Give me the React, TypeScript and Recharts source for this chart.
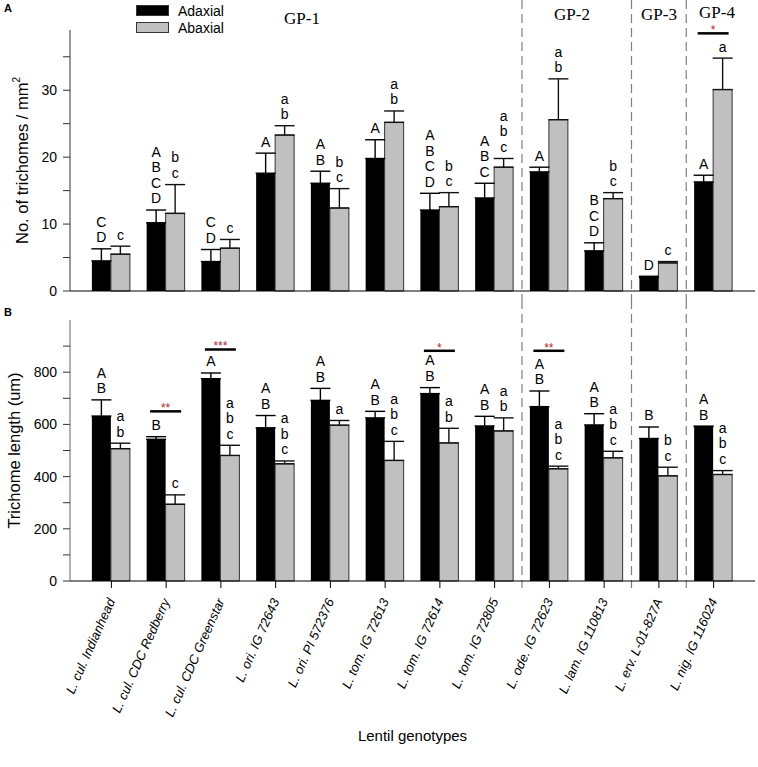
import React from "react";
import { BarChart, Bar, XAxis, YAxis, ErrorBar, LabelList, ReferenceLine, Legend } from "recharts";

const genotypes = [
  "L. cul. Indianhead",
  "L. cul. CDC Redberry",
  "L. cul. CDC Greenstar",
  "L. ori. IG 72643",
  "L. ori. PI 572376",
  "L. tom. IG 72613",
  "L. tom. IG 72614",
  "L. tom. IG 72805",
  "L. ode. IG 72623",
  "L. lam. IG 110813",
  "L. erv. L-01-827A",
  "L. nig. IG 116024",
];

const surfaces = ["Adaxial", "Abaxial"];

// A: trichome density (no. / mm2)
const densityAdaxial = [4.5, 10.2, 4.4, 17.6, 16.1, 19.8, 12.1, 13.9, 17.8, 6.0, 2.0, 16.3];
const densityAdaxialErr = [1.8, 1.9, 1.8, 3.0, 1.8, 2.8, 2.5, 2.2, 0.7, 1.2, 0.2, 1.0];
const densityAbaxial = [5.5, 11.6, 6.4, 23.3, 12.4, 25.2, 12.6, 18.5, 25.6, 13.8, 4.2, 30.1];
const densityAbaxialErr = [1.2, 4.3, 1.3, 1.4, 2.9, 1.7, 2.1, 1.3, 6.1, 0.9, 0.2, 4.7];
const densityAdaxialLetters = ["CD", "ABCD", "CD", "A", "AB", "A", "ABCD", "ABC", "A", "BCD", "D", "A"];
const densityAbaxialLetters = ["c", "bc", "c", "ab", "bc", "ab", "bc", "abc", "ab", "bc", "c", "a"];
const densitySig = ["", "", "", "", "", "", "", "", "", "", "", "*"];
const densitySigLevel = [0, 0, 0, 0, 0, 0, 0, 0, 0, 0, 0, 38.5];
const densityTicks = [0, 5, 10, 15, 20, 25, 30, 35];

// B: trichome length (um)
const lengthAdaxial = [632, 543, 775, 587, 692, 625, 718, 594, 668, 598, 546, 592];
const lengthAdaxialErr = [62, 10, 22, 47, 46, 25, 23, 37, 60, 43, 44, 1];
const lengthAbaxial = [507, 294, 481, 449, 597, 462, 529, 575, 430, 472, 403, 408];
const lengthAbaxialErr = [21, 36, 39, 11, 18, 73, 56, 50, 10, 25, 33, 15];
const lengthAdaxialLetters = ["AB", "B", "A", "AB", "AB", "AB", "AB", "AB", "AB", "AB", "B", "AB"];
const lengthAbaxialLetters = ["ab", "c", "abc", "abc", "a", "abc", "ab", "ab", "abc", "abc", "bc", "abc"];
const lengthSig = ["", "**", "***", "", "", "", "*", "", "**", "", "", ""];
const lengthSigLevel = [0, 650, 887, 0, 0, 0, 882, 0, 882, 0, 0, 0];
const lengthTicks = [0, 100, 200, 300, 400, 500, 600, 700, 800, 900];

// last genotype of GP-1, GP-2, GP-3
const groupEnds = ["L. tom. IG 72805", "L. lam. IG 110813", "L. erv. L-01-827A"];

const densityData = genotypes.map((g, i) => ({
  name: g,
  ad: densityAdaxial[i],
  adErr: [0, densityAdaxialErr[i]],
  ab: densityAbaxial[i],
  abErr: [0, densityAbaxialErr[i]],
}));

const lengthData = genotypes.map((g, i) => ({
  name: g,
  ad: lengthAdaxial[i],
  adErr: [0, lengthAdaxialErr[i]],
  ab: lengthAbaxial[i],
  abErr: [0, lengthAbaxialErr[i]],
}));

const FONT = "'Liberation Sans', Arial, sans-serif";

const barBox = (props: any) => {
  const vb = props.viewBox || props;
  const top = Math.min(vb.y, vb.y + vb.height);
  const h = Math.abs(vb.height);
  return { x: vb.x, w: vb.width, top, bottom: top + h, h };
};

const makeLetters = (values: number[], errs: number[], letters: string[]) => (props: any) => {
  const i = props.index;
  if (i == null || !letters[i]) return null;
  const b = barBox(props);
  const ppu = b.h / values[i];
  const errTop = b.top - errs[i] * ppu;
  const chars = letters[i].split("");
  const cx = b.x + b.w / 2;
  return (
    <g>
      {chars.map((c, k) => (
        <text
          key={k}
          x={cx}
          y={errTop - 11.5 - (chars.length - 1 - k) * 15.5}
          dy="0.35em"
          textAnchor="middle"
          fontSize={14}
          fontFamily={FONT}
          fill="#000"
        >
          {c}
        </text>
      ))}
    </g>
  );
};

const makeSig = (values: number[], sig: string[], levels: number[]) => (props: any) => {
  const i = props.index;
  if (i == null || !sig[i]) return null;
  const b = barBox(props);
  const ppu = b.h / values[i];
  const ly = b.bottom - levels[i] * ppu;
  const cx = b.x + b.w;
  return (
    <g>
      <line x1={cx - 15.5} x2={cx + 15.5} y1={ly} y2={ly} stroke="#000" strokeWidth={2.5} />
      <text x={cx} y={ly + 1} textAnchor="middle" fontSize={12} fontFamily={FONT} fill="#b0262a">
        {sig[i]}
      </text>
    </g>
  );
};

const dashShape = (bottomExtra: number | null, fixedBottom: number | null) => (p: any) => {
  const yb = fixedBottom != null ? fixedBottom : Math.max(p.y1, p.y2) + (bottomExtra || 0);
  return <line x1={p.x1} x2={p.x1} y1={0} y2={yb} stroke="#808080" strokeWidth={1.2} strokeDasharray="9 5" />;
};

const GenotypeTick = (props: any) => {
  const { x, y, payload } = props;
  return (
    <g transform={`translate(${x + 4},${y + 11})`}>
      <text transform="rotate(-66)" textAnchor="end" fontSize={13} fontStyle="italic" fontFamily={FONT} fill="#000">
        {payload.value}
      </text>
    </g>
  );
};

const LegendBox = (props: any) => {
  const payload = [...(props.payload || [])].sort(
    (a: any, b: any) => surfaces.indexOf(a.value) - surfaces.indexOf(b.value)
  );
  return (
    <div style={{ fontFamily: FONT }}>
      {payload.map((e: any) => (
        <div key={e.value} style={{ display: "flex", alignItems: "center", height: 17 }}>
          <span
            style={{
              display: "inline-block",
              width: 31,
              height: 9,
              background: e.color,
              border: "1px solid #333",
              marginRight: 9,
            }}
          />
          <span style={{ fontSize: 14, color: "#000" }}>{e.value}</span>
        </div>
      ))}
    </div>
  );
};

const yLabelA = (props: any) => {
  const vb = props.viewBox;
  const cy = vb.y + vb.height / 2;
  return (
    <text transform={`translate(28,${cy}) rotate(-90)`} textAnchor="middle" fontSize={16.5} fontFamily={FONT} fill="#000">
      No. of trichomes / mm
      <tspan fontSize={10} dy={-8}>2</tspan>
    </text>
  );
};

const yLabelB = (props: any) => {
  const vb = props.viewBox;
  const cy = vb.y + vb.height / 2;
  return (
    <text transform={`translate(20,${cy}) rotate(-90)`} textAnchor="middle" fontSize={16.5} fontFamily={FONT} fill="#000">
      Trichome length (um)
    </text>
  );
};

const tickStyle = { fontSize: 14, fill: "#000", fontFamily: FONT };

export default function App() {
  return (
    <div style={{ position: "absolute", left: 0, top: 0, width: 758, height: 767, background: "#fff", fontFamily: FONT }}>
      <div style={{ position: "absolute", left: 0, top: 0 }}>
        <BarChart
          width={758}
          height={300}
          data={densityData}
          margin={{ top: 30, right: 3, left: 0, bottom: 0 }}
          barCategoryGap="14.4%"
          barGap={0}
        >
          {groupEnds.map((g) => (
            <ReferenceLine key={g} x={g} position="end" ifOverflow="visible" shape={dashShape(null, 300)} />
          ))}
          <XAxis
            dataKey="name"
            height={9}
            padding={{ left: 14, right: 14 }}
            tick={false}
            tickSize={7}
            axisLine={{ stroke: "#000" }}
            tickLine={{ stroke: "#000" }}
          />
          <YAxis
            domain={[0, 39]}
            ticks={densityTicks}
            tickFormatter={(v: number) => (v % 10 === 0 ? String(v) : "")}
            width={70}
            tickSize={7}
            tickMargin={6}
            tick={tickStyle}
            axisLine={{ stroke: "#333" }}
            tickLine={{ stroke: "#333" }}
            label={{ content: yLabelA }}
          />
          <YAxis yAxisId="frame" orientation="right" width={0} tick={false} tickLine={false} axisLine={{ stroke: "#222" }} />
          <Legend
            layout="vertical"
            align="center"
            verticalAlign="middle"
            wrapperStyle={{ top: 2, left: 136, width: 120, height: 36 }}
            content={LegendBox}
          />
          <Bar dataKey="ad" name={surfaces[0]} fill="#000" isAnimationActive={false}>
            <ErrorBar dataKey="adErr" direction="y" width={10} stroke="#000" strokeWidth={1.4} />
            <LabelList content={makeLetters(densityAdaxial, densityAdaxialErr, densityAdaxialLetters)} />
            <LabelList content={makeSig(densityAdaxial, densitySig, densitySigLevel)} />
          </Bar>
          <Bar dataKey="ab" name={surfaces[1]} fill="#c0c0c0" stroke="#333" strokeWidth={1} isAnimationActive={false}>
            <ErrorBar dataKey="abErr" direction="y" width={10} stroke="#111" strokeWidth={1.4} />
            <LabelList content={makeLetters(densityAbaxial, densityAbaxialErr, densityAbaxialLetters)} />
          </Bar>
        </BarChart>
      </div>

      <div style={{ position: "absolute", left: 0, top: 300 }}>
        <BarChart
          width={758}
          height={467}
          data={lengthData}
          margin={{ top: 20, right: 3, left: 0, bottom: 0 }}
          barCategoryGap="14.4%"
          barGap={0}
        >
          {groupEnds.map((g) => (
            <ReferenceLine key={g} x={g} position="end" ifOverflow="visible" shape={dashShape(7, null)} />
          ))}
          <XAxis
            dataKey="name"
            height={186}
            padding={{ left: 14, right: 14 }}
            tick={GenotypeTick}
            tickSize={7}
            tickMargin={2}
            interval={0}
            axisLine={{ stroke: "#000" }}
            tickLine={{ stroke: "#000" }}
            label={{ value: "Lentil genotypes", position: "insideBottom", offset: 26, style: { fontSize: 15, fill: "#000", fontFamily: FONT } }}
          />
          <YAxis
            domain={[0, 1000]}
            ticks={lengthTicks}
            tickFormatter={(v: number) => (v % 200 === 0 ? String(v) : "")}
            width={70}
            tickSize={7}
            tickMargin={6}
            tick={tickStyle}
            axisLine={{ stroke: "#666" }}
            tickLine={{ stroke: "#333" }}
            label={{ content: yLabelB }}
          />
          <YAxis yAxisId="frame" orientation="right" width={0} tick={false} tickLine={false} axisLine={{ stroke: "#222" }} />
          <Bar dataKey="ad" name={surfaces[0]} fill="#000" isAnimationActive={false}>
            <ErrorBar dataKey="adErr" direction="y" width={10} stroke="#000" strokeWidth={1.4} />
            <LabelList content={makeLetters(lengthAdaxial, lengthAdaxialErr, lengthAdaxialLetters)} />
            <LabelList content={makeSig(lengthAdaxial, lengthSig, lengthSigLevel)} />
          </Bar>
          <Bar dataKey="ab" name={surfaces[1]} fill="#c0c0c0" stroke="#333" strokeWidth={1} isAnimationActive={false}>
            <ErrorBar dataKey="abErr" direction="y" width={10} stroke="#111" strokeWidth={1.4} />
            <LabelList content={makeLetters(lengthAbaxial, lengthAbaxialErr, lengthAbaxialLetters)} />
          </Bar>
        </BarChart>
      </div>

      <div style={{ position: "absolute", left: 4, top: 2, fontSize: 11, fontWeight: "bold" }}>A</div>
      <div style={{ position: "absolute", left: 4, top: 306, fontSize: 11, fontWeight: "bold" }}>B</div>

      {[
        { t: "GP-1", x: 302, y: 19 },
        { t: "GP-2", x: 572, y: 15 },
        { t: "GP-3", x: 659, y: 15 },
        { t: "GP-4", x: 717, y: 13 },
      ].map((g) => (
        <div
          key={g.t}
          style={{
            position: "absolute",
            left: g.x,
            top: g.y,
            transform: "translate(-50%,-50%)",
            fontFamily: "'Liberation Serif', 'Times New Roman', serif",
            fontSize: 17,
            whiteSpace: "nowrap",
          }}
        >
          {g.t}
        </div>
      ))}
    </div>
  );
}
